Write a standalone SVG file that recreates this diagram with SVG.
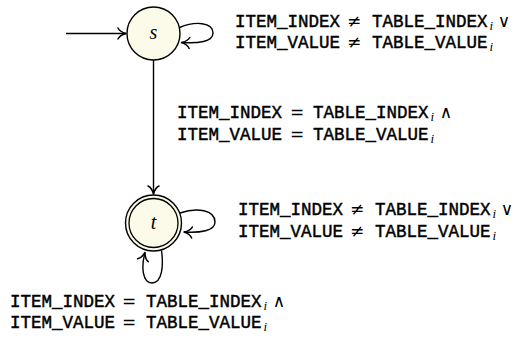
<svg xmlns="http://www.w3.org/2000/svg" width="522" height="338" viewBox="0 0 522 338">
<style>
.node{fill:#fcfbe9;stroke:#000;stroke-width:1.4}
.ring{fill:none;stroke:#000;stroke-width:1.3}
.edge{fill:none;stroke:#000;stroke-width:1.4}
.tt{font-family:"Liberation Mono","DejaVu Sans Mono",monospace;font-size:17.5px;fill:#000;stroke:#000;stroke-width:0.45}
.op{font-family:"DejaVu Sans",sans-serif;font-size:17px;fill:#000;text-anchor:middle}
.cn{font-family:"DejaVu Serif","Liberation Serif",serif;font-size:17px;fill:#000;text-anchor:middle}
.sub{font-family:"Liberation Serif","DejaVu Serif",serif;font-style:italic;font-size:13px;fill:#000}
.lbl{font-family:"Liberation Serif","DejaVu Serif",serif;font-style:italic;font-size:20px;fill:#000;text-anchor:middle}
</style>
<defs>
<marker id="arr" viewBox="-10 -7 11 14" refX="0" refY="0" markerWidth="11" markerHeight="14" markerUnits="userSpaceOnUse" orient="auto">
<path d="M-8,-5.5 C-6.5,-2.4 -2.2,-0.6 0,0 C-2.2,0.6 -6.5,2.4 -8,5.5" fill="none" stroke="#000" stroke-width="1.5" stroke-linecap="round" stroke-linejoin="round"/>
</marker>
</defs>
<g id="edges">
<path class="edge" d="M66,33.5 L126,33.5" marker-end="url(#arr)"/>
<path class="edge" d="M179.5,27.5 C195,21 213,22 213,33 C213,42 198,43.5 181.5,42.5" marker-end="url(#arr)"/>
<path class="edge" d="M153.5,60 L153.5,194" marker-end="url(#arr)"/>
<path class="edge" d="M180,213 C197,207 215,210 215,222 C215,231 200,233 184,232" marker-end="url(#arr)"/>
<path class="edge" d="M161.5,250.5 C163.5,265 162.5,283 152,283 C142.5,283 141,267 145,252.5" marker-end="url(#arr)"/>
</g>
<g id="node-s">
<circle class="node" cx="153.5" cy="33.5" r="26.5"/>
<text class="lbl" x="153.5" y="39">s</text>
</g>
<g id="node-t">
<circle class="node" cx="153.5" cy="223" r="28"/>
<circle class="ring" cx="153.5" cy="223" r="24.5"/>
<text class="lbl" x="153.5" y="229">t</text>
</g>
<g id="label-s-loop">
<text class="tt" x="235" y="27">ITEM_INDEX</text>
<text class="op" x="354" y="27">≠</text>
<text class="tt" x="372" y="27">TABLE_INDEX</text>
<text class="sub" x="489.5" y="30">i</text>
<text class="cn" x="504" y="27">∨</text>
<text class="tt" x="235" y="48">ITEM_VALUE</text>
<text class="op" x="354" y="48">≠</text>
<text class="tt" x="372" y="48">TABLE_VALUE</text>
<text class="sub" x="489.5" y="51">i</text>
</g>
<g id="label-s-t">
<text class="tt" x="177" y="118">ITEM_INDEX</text>
<text class="op" x="297" y="118">=</text>
<text class="tt" x="313" y="118">TABLE_INDEX</text>
<text class="sub" x="430.5" y="121">i</text>
<text class="cn" x="446" y="118">∧</text>
<text class="tt" x="177" y="140">ITEM_VALUE</text>
<text class="op" x="297" y="140">=</text>
<text class="tt" x="313" y="140">TABLE_VALUE</text>
<text class="sub" x="430.5" y="143">i</text>
</g>
<g id="label-t-loop-right">
<text class="tt" x="238" y="215">ITEM_INDEX</text>
<text class="op" x="357" y="215">≠</text>
<text class="tt" x="375" y="215">TABLE_INDEX</text>
<text class="sub" x="492.5" y="218">i</text>
<text class="cn" x="507" y="215">∨</text>
<text class="tt" x="238" y="237">ITEM_VALUE</text>
<text class="op" x="357" y="237">≠</text>
<text class="tt" x="375" y="237">TABLE_VALUE</text>
<text class="sub" x="492.5" y="240">i</text>
</g>
<g id="label-t-loop-bottom">
<text class="tt" x="10" y="307">ITEM_INDEX</text>
<text class="op" x="129" y="307">=</text>
<text class="tt" x="146" y="307">TABLE_INDEX</text>
<text class="sub" x="263.5" y="310">i</text>
<text class="cn" x="279" y="307">∧</text>
<text class="tt" x="10" y="328">ITEM_VALUE</text>
<text class="op" x="129" y="328">=</text>
<text class="tt" x="146" y="328">TABLE_VALUE</text>
<text class="sub" x="263.5" y="331">i</text>
</g>
</svg>
